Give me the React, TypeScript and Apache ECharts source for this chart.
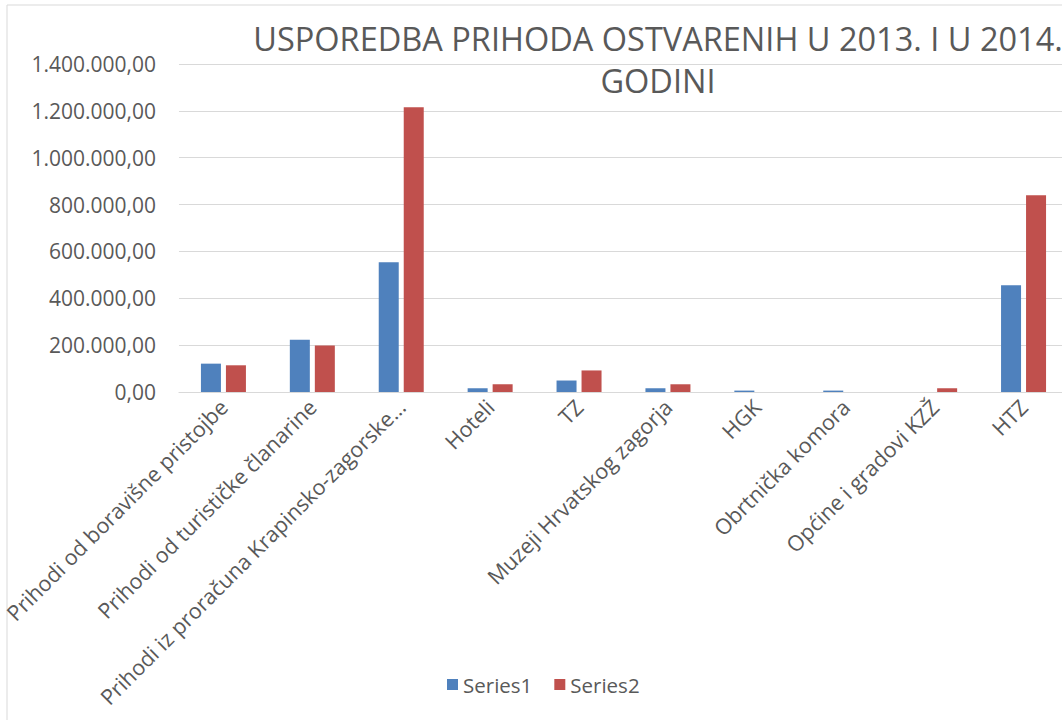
import React, { useEffect, useRef } from "react";
import * as echarts from "echarts";

const categories = [
  "Prihodi od boravišne pristojbe",
  "Prihodi od turističke članarine",
  "Prihodi iz proračuna Krapinsko-zagorske županije",
  "Hoteli",
  "TZ",
  "Muzeji Hrvatskog zagorja",
  "HGK",
  "Obrtnička komora",
  "Općine i gradovi KZŽ",
  "HTZ",
];
const series1 = [121000, 223000, 554000, 16000, 49000, 16000, 6000, 6000, 0, 456000];
const series2 = [114000, 198000, 1215000, 33000, 92000, 33000, 0, 0, 16000, 840000];
const titleText = "USPOREDBA PRIHODA OSTVARENIH U 2013. I U 2014.\nGODINI";
const seriesNames = ["Series1", "Series2"];

const FONT = "'Open Sans', 'Liberation Sans', sans-serif";
const GREY = "#595959";

function fmt(v: number): string {
  const s = Math.round(v).toString();
  const withDots = s.replace(/\B(?=(\d{3})+(?!\d))/g, ".");
  return withDots + ",00";
}

export default function App() {
  const ref = useRef<HTMLDivElement>(null);
  useEffect(() => {
    if (!ref.current) return;
    const chart = echarts.init(ref.current, undefined, { renderer: "svg" });
    chart.setOption({
      animation: false,
      backgroundColor: "#ffffff",
      title: {
        text: titleText,
        left: 653,
        top: 12,
        textAlign: "center",
        textStyle: {
          fontFamily: FONT,
          fontSize: 32.5,
          fontWeight: "normal",
          color: GREY,
          lineHeight: 42,
        },
      },
      graphic: [
        {
          type: "rect",
          shape: { x: 7, y: 5, width: 1200, height: 800 },
          style: { fill: "none", stroke: "#D9D9D9", lineWidth: 1 },
          silent: true,
          z: -10,
        },
      ],
      legend: {
        data: seriesNames,
        left: 442,
        top: 669,
        itemWidth: 11,
        itemHeight: 11,
        itemGap: 22,
        icon: "rect",
        textStyle: { fontFamily: FONT, fontSize: 20.5, color: GREY },
      },
      grid: { left: 178, right: 1100 - 1068, top: 64, bottom: 720 - 392, containLabel: false },
      xAxis: {
        type: "category",
        data: categories,
        axisLine: { lineStyle: { color: "#D9D9D9" } },
        axisTick: { show: false },
        axisLabel: {
          rotate: 45,
          interval: 0,
          fontFamily: FONT,
          fontSize: 21.5,
          color: GREY,
          margin: 11,
          formatter: (v: string) => (v.length > 40 ? v.slice(0, 39) + "…" : v),
        },
      },
      yAxis: {
        type: "value",
        min: 0,
        max: 1400000,
        interval: 200000,
        axisLine: { show: false },
        axisTick: { show: false },
        splitLine: { lineStyle: { color: "#D9D9D9" } },
        axisLabel: {
          fontFamily: FONT,
          fontSize: 21,
          color: GREY,
          margin: 23,
          formatter: (v: number) => fmt(v),
        },
      },
      series: [
        {
          name: seriesNames[0],
          type: "bar",
          data: series1,
          barWidth: 20,
          barGap: "25%",
          itemStyle: { color: "#4F81BD" },
        },
        {
          name: seriesNames[1],
          type: "bar",
          data: series2,
          barWidth: 20,
          barGap: "25%",
          itemStyle: { color: "#C0504D" },
        },
      ],
    });
    return () => chart.dispose();
  }, []);
  return (
    <div style={{ position: "fixed", left: 0, top: 0, width: 1062, height: 720, overflow: "hidden", background: "#fff" }}>
      <div ref={ref} style={{ width: 1100, height: 720 }} />
    </div>
  );
}
